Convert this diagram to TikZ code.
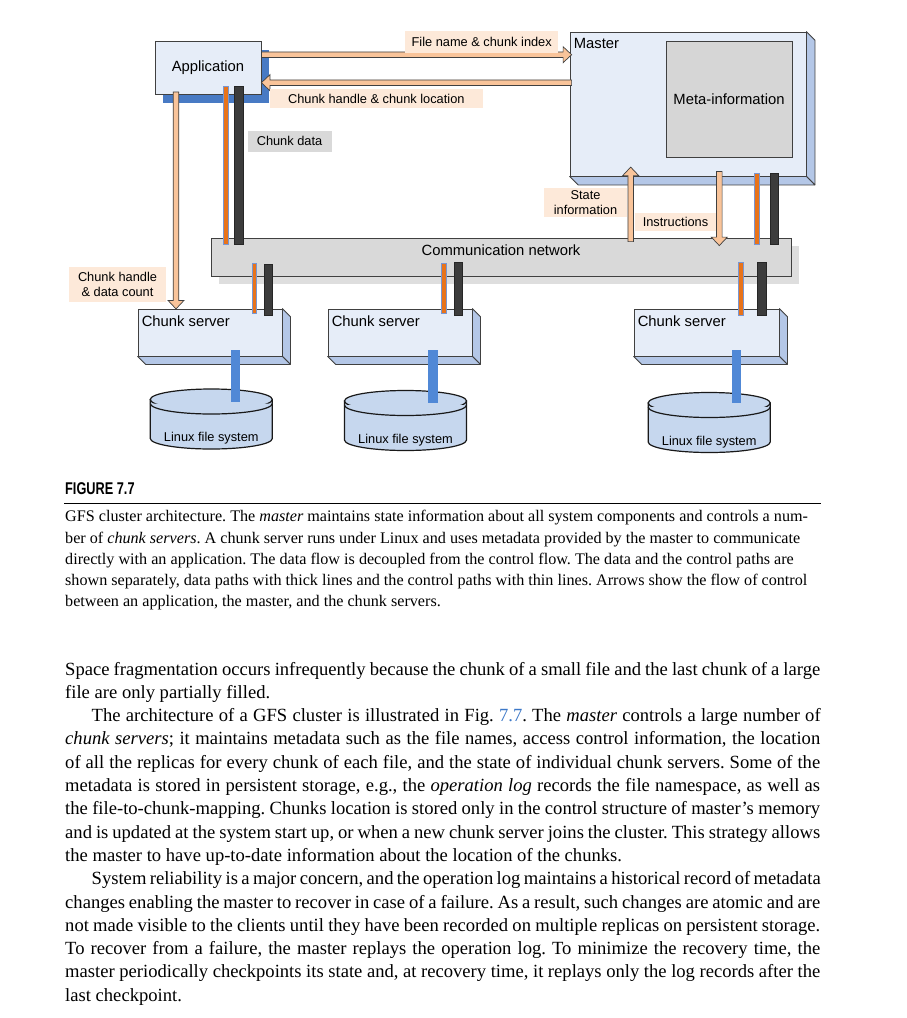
\documentclass[tikz,border=0pt]{standalone}
\usepackage{fontspec}
\setmainfont{Liberation Serif}
\newfontfamily\dsans{Liberation Sans}
\newfontfamily\figfont[FakeStretch=0.75]{Liberation Sans}
\usetikzlibrary{calc,shadows}
\frenchspacing
\definecolor{boxfill}{RGB}{230,237,248}
\definecolor{sidefill}{RGB}{180,199,231}
\definecolor{appshadow}{RGB}{72,122,196}
\definecolor{diskfill}{RGB}{198,215,238}
\definecolor{polecol}{RGB}{80,136,214}
\definecolor{arrowfill}{RGB}{249,196,154}
\definecolor{peach}{RGB}{253,233,217}
\definecolor{lgray}{RGB}{217,217,217}
\definecolor{netshadow}{RGB}{222,222,222}
\definecolor{edge}{RGB}{64,64,64}
\definecolor{barorange}{RGB}{232,115,26}
\definecolor{baredge}{RGB}{120,150,210}
\definecolor{bardark}{RGB}{60,60,60}
\definecolor{metafill}{RGB}{214,214,214}
\definecolor{refblue}{RGB}{60,120,200}
\newcommand\extrude[2]{%
  \filldraw[sideface] (#1.north east) -- ([shift={(#2,#2)}]#1.north east) -- ([shift={(#2,#2)}]#1.south east) -- (#1.south east) -- cycle;
  \filldraw[sideface] (#1.south west) -- (#1.south east) -- ([shift={(#2,#2)}]#1.south east) -- ([shift={(#2,#2)}]#1.south west) -- cycle;
}
\newcommand\disk[4]{%
  \coordinate (#1) at (#2,#3);
  \coordinate (#1b) at (#2,#4);
  \filldraw[diskstyle] ([xshift=-61pt]#1) -- ([xshift=-61pt]#1b) arc[start angle=180,end angle=360,x radius=61pt,y radius=10.5pt] -- ([xshift=61pt]#1) -- cycle;
  \filldraw[diskstyle] (#1) ellipse[x radius=61pt,y radius=10.5pt];
  \draw[diskstyle] ([shift={(-61,4)}]#1) arc[start angle=180,end angle=360,x radius=61pt,y radius=10.5pt];
  \node[smalltxt, anchor=base] (#1t) at ([shift={(0,3)}]#1b) {Linux file system};
}
\newcommand\jl[1]{\makebox[755pt][s]{#1}}
\newcommand\ji[1]{\makebox[729pt][s]{#1}}
\tikzset{
  x=1pt, y=-1pt,
  bigtxt/.style={font=\dsans\fontsize{14.8}{17}\selectfont, inner sep=0pt},
  smalltxt/.style={font=\dsans\fontsize{12.8}{15.5}\selectfont, inner sep=0pt},
  appbox/.style={bigtxt, draw=edge, fill=boxfill, line width=0.8pt,
    drop shadow={shadow xshift=8pt, shadow yshift=-8pt, fill=appshadow, opacity=1}},
  mbox/.style={draw=edge, fill=boxfill, line width=0.8pt, inner sep=0pt},
  metabox/.style={bigtxt, draw=edge, fill=metafill, line width=0.8pt},
  netbox/.style={draw=edge, fill=lgray, line width=0.8pt, inner sep=0pt,
    drop shadow={shadow xshift=8pt, shadow yshift=-8pt, fill=netshadow, opacity=1}},
  sideface/.style={draw=edge, fill=sidefill, line width=0.8pt, line join=round},
  diskstyle/.style={draw=black!90, fill=diskfill, line width=1.2pt},
  plbl/.style={smalltxt, fill=peach, align=center},
  glbl/.style={smalltxt, fill=lgray},
  blockarrow/.style={draw=edge, fill=arrowfill, line width=0.7pt, line join=miter,
    to path={let \p1=(\tikztostart), \p2=(\tikztotarget), \p3=($(\p2)!8.5pt!(\p1)$) in
      ($(\p1)!2.8pt!90:(\p2)$) -- ($(\p3)!2.8pt!-90:(\p1)$) -- ($(\p3)!8pt!-90:(\p1)$) -- (\p2)
      -- ($(\p3)!8pt!90:(\p1)$) -- ($(\p3)!2.8pt!90:(\p1)$) -- ($(\p1)!2.8pt!-90:(\p2)$) -- cycle}},
  obar/.style={draw=baredge, fill=barorange, line width=0.5pt,
    to path={([xshift=-2.3pt]\tikztostart) rectangle ([xshift=2.3pt]\tikztotarget)}},
  dbar/.style={draw=black!85, fill=bardark, line width=0.5pt,
    to path={([xshift=-4.3pt]\tikztostart) rectangle ([xshift=4.3pt]\tikztotarget)}},
  pole/.style={fill=polecol,
    to path={([xshift=-4.6pt]\tikztostart) rectangle ([xshift=4.6pt]\tikztotarget)}},
  captxt/.style={anchor=base west, inner sep=0pt, font=\fontsize{16.15}{19}\selectfont},
  bodyline/.style={anchor=base west, inner sep=0pt, font=\fontsize{18.6}{22}\selectfont},
}
\begin{document}
\begin{tikzpicture}
\useasboundingbox (0,0) rectangle (906,1018);
\fill[white] (0,0) rectangle (906,1018);

% network
\node[netbox, minimum width=580pt, minimum height=38pt] (net) at (501,257) {};
\node[bigtxt, anchor=base] (nettxt) at (501,255.5) {Communication network};

% application
\node[appbox, minimum width=106pt, minimum height=53pt] (app) at (208,68) {Application};

% master
\node[mbox, minimum width=236pt, minimum height=144pt] (master) at (688,104) {};
\extrude{master}{8.5}
\node[bigtxt, anchor=base west] (mastertxt) at ([shift={(4,17)}]master.north west) {Master};
\node[metabox, minimum width=126pt, minimum height=116pt] (meta) at (729,99) {Meta-information};

% disks
\disk{d1}{211.3}{399.5}{438.5}
\disk{d2}{405.5}{401}{440}
\disk{d3}{709.2}{403}{442}

% chunk servers
\node[mbox, minimum width=144pt, minimum height=47pt] (cs1) at (210,332.5) {};
\extrude{cs1}{8}
\node[bigtxt, anchor=base west] (cs1t) at ([shift={(4,18)}]cs1.north west) {Chunk server};
\node[mbox, minimum width=144pt, minimum height=47pt] (cs2) at (400,332.5) {};
\extrude{cs2}{8}
\node[bigtxt, anchor=base west] (cs2t) at ([shift={(4,18)}]cs2.north west) {Chunk server};
\node[mbox, minimum width=145pt, minimum height=47pt] (cs3) at (706.5,332.5) {};
\extrude{cs3}{8}
\node[bigtxt, anchor=base west] (cs3t) at ([shift={(4,18)}]cs3.north west) {Chunk server};

% poles to disks
\path[pole] ([shift={(25.3,-6)}]cs1.south) to ([shift={(24,2.5)}]d1);
\path[pole] ([shift={(33,-6)}]cs2.south) to ([shift={(27.5,1.7)}]d2);
\path[pole] ([shift={(29.8,-6)}]cs3.south) to ([shift={(27.1,0)}]d3);

% data / control bars
\draw[obar] ([shift={(17.5,-9)}]app.south) to ([shift={(-275.5,7)}]net.north);
\draw[dbar] ([shift={(31,-9)}]app.south) to ([shift={(-262,7)}]net.north);
\draw[obar] ([shift={(-246.8,-13)}]net.south) to ([shift={(44.2,5)}]cs1.north);
\draw[dbar] ([shift={(-232.7,-12)}]net.south) to ([shift={(58.3,7)}]cs1.north);
\draw[obar] ([shift={(-57.5,-13)}]net.south) to ([shift={(43.5,5)}]cs2.north);
\draw[dbar] ([shift={(-42.7,-14)}]net.south) to ([shift={(58.3,7)}]cs2.north);
\draw[obar] ([shift={(239.5,-14)}]net.south) to ([shift={(34,7)}]cs3.north);
\draw[dbar] ([shift={(260.7,-14)}]net.south) to ([shift={(55.2,7)}]cs3.north);
\draw[obar] ([shift={(68.5,-3)}]master.south) to ([shift={(255.5,7)}]net.north);
\draw[dbar] ([shift={(86.3,-3)}]master.south) to ([shift={(273.3,7)}]net.north);

% control arrows
\draw[blockarrow] ([shift={(0,-13.3)}]app.east) to ([shift={(2,-49.3)}]master.west);
\draw[blockarrow] ([shift={(2,-21.3)}]master.west) to ([shift={(0,14.7)}]app.east);
\draw[blockarrow] ([shift={(-32,-3)}]app.south) to ([shift={(-34,0.3)}]cs1.north);
\draw[blockarrow] ([shift={(129.7,4)}]net.north) to ([shift={(-57.3,-9.3)}]master.south);
\draw[blockarrow] ([shift={(31.3,-5)}]master.south) to ([shift={(218.3,8)}]net.north);

% labels
\node[plbl, minimum width=153pt, minimum height=22pt] (lfname) at (481.7,41.7) {File name \& chunk index};
\node[plbl, minimum width=213pt, minimum height=19pt] (lchloc) at (376.3,98.8) {Chunk handle \& chunk location};
\node[glbl, minimum width=84pt, minimum height=21pt] (lchdata) at (289.5,141.3) {Chunk data};
\node[plbl, minimum width=97pt, minimum height=35pt] (lhdc) at (117.5,284.2) {Chunk handle\\\& data count};
\node[plbl, minimum width=83pt, minimum height=29pt] (lstate) at (585.5,202.8) {State\\information};
\node[plbl, minimum width=81pt, minimum height=18pt] (linstr) at (675.5,222.2) {Instructions};

% caption
\node[anchor=base west, inner sep=0pt, font=\figfont\bfseries\fontsize{17}{20}\selectfont] (figlbl) at (65,494) {FIGURE 7.7};
\coordinate (rulel) at (64,503.5);
\coordinate (ruler) at (820.5,503.5);
\draw[line width=1.1pt] (rulel) -- (ruler);
\node[captxt] (c1) at (65,521.7) {GFS cluster architecture. The \textit{master} maintains state information about all system components and controls a num-};
\node[captxt] (c2) at (65,543) {ber of \textit{chunk servers}. A chunk server runs under Linux and uses metadata provided by the master to communicate};
\node[captxt] (c3) at (65,564.3) {directly with an application. The data flow is decoupled from the control flow. The data and the control paths are};
\node[captxt] (c4) at (65,585.6) {shown separately, data paths with thick lines and the control paths with thin lines. Arrows show the flow of control};
\node[captxt] (c5) at (65,606.9) {between an application, the master, and the chunk servers.};

% body text
\node[bodyline] (b1) at (65,675) {\jl{Space fragmentation occurs infrequently because the chunk of a small file and the last chunk of a large}};
\node[bodyline] (b2) at (65,698.3) {file are only partially filled.};
\node[bodyline] (b3) at (91.5,721.6) {\ji{The architecture of a GFS cluster is illustrated in Fig. \textcolor{refblue}{7.7}. The \textit{master} controls a large number of}};
\node[bodyline] (b4) at (65,744.9) {\jl{\textit{chunk servers}; it maintains metadata such as the file names, access control information, the location}};
\node[bodyline] (b5) at (65,768.2) {\jl{of all the replicas for every chunk of each file, and the state of individual chunk servers. Some of the}};
\node[bodyline] (b6) at (65,791.5) {\jl{metadata is stored in persistent storage, e.g., the \textit{operation log} records the file namespace, as well as}};
\node[bodyline] (b7) at (65,814.8) {\jl{the file-to-chunk-mapping. Chunks location is stored only in the control structure of master's memory}};
\node[bodyline] (b8) at (65,838.1) {\jl{and is updated at the system start up, or when a new chunk server joins the cluster. This strategy allows}};
\node[bodyline] (b9) at (65,861.4) {the master to have up-to-date information about the location of the chunks.};
\node[bodyline] (b10) at (91.5,884.7) {\ji{System reliability is a major concern, and the operation log maintains a historical record of metadata}};
\node[bodyline] (b11) at (65,908) {\jl{changes enabling the master to recover in case of a failure. As a result, such changes are atomic and are}};
\node[bodyline] (b12) at (65,931.3) {\jl{not made visible to the clients until they have been recorded on multiple replicas on persistent storage.}};
\node[bodyline] (b13) at (65,954.6) {\jl{To recover from a failure, the master replays the operation log. To minimize the recovery time, the}};
\node[bodyline] (b14) at (65,977.9) {\jl{master periodically checkpoints its state and, at recovery time, it replays only the log records after the}};
\node[bodyline] (b15) at (65,1001.2) {last checkpoint.};
\end{tikzpicture}
\end{document}
